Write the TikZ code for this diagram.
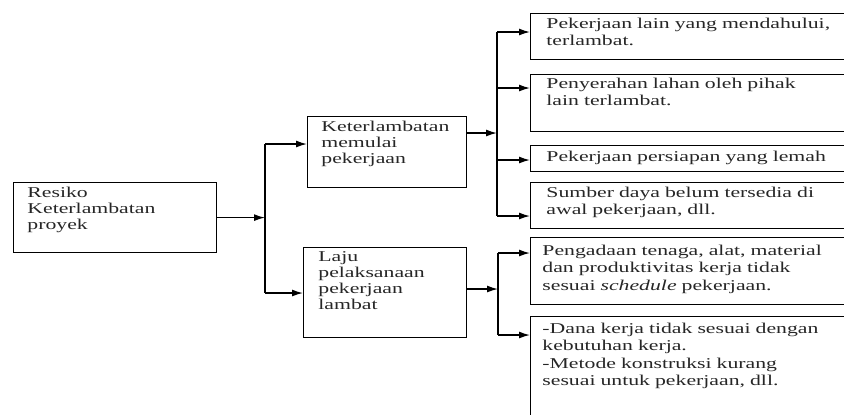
\documentclass[tikz,border=0pt]{standalone}
\usepackage{fontspec}
\setmainfont[FakeStretch=1.45]{Liberation Serif}
\usetikzlibrary{arrows.meta}

\begin{document}
\begin{tikzpicture}[x=0.5pt, y=-0.5pt,
  box/.style={draw, line width=0.6pt, anchor=north west, inner sep=0pt},
  txt/.style={anchor=base west, inner sep=0pt, align=left, text width=100pt,
    text=black!85, font=\fontsize{7.5}{8}\selectfont},
  rtxt/.style={txt, text width=180pt, font=\fontsize{7.5}{8.75}\selectfont},
  arr/.style={line width=0.7pt, -{Latex[length=5.5pt, width=3.5pt]}},
  spine/.style={line width=0.9pt}]
  \useasboundingbox (0,0) rectangle (844,414);
  \clip (0,0) rectangle (844,414);
  % Left column
  \node[box, minimum width=101.5pt, minimum height=35pt] (root) at (13,182) {};
  \node[txt] (troot) at (27,197) {Resiko\\Keterlambatan\\proyek};
  \node[box, minimum width=79.5pt, minimum height=35.5pt] (ket) at (307,116) {};
  \node[txt] (tket) at (321,131) {Keterlambatan\\memulai\\pekerjaan};
  \node[box, minimum width=81.5pt, minimum height=45pt] (laju) at (303,247) {};
  \node[txt] (tlaju) at (318,261) {Laju\\pelaksanaan\\pekerjaan\\lambat};
  % Right column
  \node[box, minimum width=160pt, minimum height=23pt] (b1) at (530,13) {};
  \node[rtxt] (t1) at (546,28) {Pekerjaan lain yang mendahului,\\terlambat.};
  \node[box, minimum width=160pt, minimum height=28.5pt] (b2) at (530,74) {};
  \node[rtxt] (t2) at (546,88) {Penyerahan lahan oleh pihak\\lain terlambat.};
  \node[box, minimum width=160pt, minimum height=13pt] (b3) at (530,145) {};
  \node[rtxt] (t3) at (546,161) {Pekerjaan persiapan yang lemah};
  \node[box, minimum width=160pt, minimum height=23pt] (b4) at (530,182) {};
  \node[rtxt] (t4) at (546,197) {Sumber daya belum tersedia di\\awal pekerjaan, dll.};
  \node[box, minimum width=160pt, minimum height=33.5pt] (b5) at (530,237) {};
  \node[rtxt] (t5) at (542,255) {Pengadaan tenaga, alat, material\\dan produktivitas kerja tidak\\sesuai \textit{schedule} pekerjaan.};
  \node[box, minimum width=160pt, minimum height=57pt] (b6) at (530,316) {};
  \node[rtxt] (t6) at (542,333) {-Dana kerja tidak sesuai dengan\\kebutuhan kerja.\\-Metode konstruksi kurang\\sesuai untuk pekerjaan, dll.};
  % First split
  \coordinate (k1) at (265,144);
  \coordinate (k2) at (265,293);
  \draw[spine] (k1) -- (k2);
  \draw[arr] (root.east) -- (root.east -| k1);
  \draw[arr] (k1) -- (k1 -| ket.west);
  \draw[arr] (k2) -- (k2 -| laju.west);
  % Second split
  \coordinate (m0) at (497,133);
  \draw[arr] (m0 -| ket.east) -- (m0);
  \foreach \b/\y in {b1/32, b2/88, b3/160, b4/216}
    \coordinate (m\b) at (497,\y);
  \draw[spine] (mb1) -- (mb4);
  \foreach \b in {b1,b2,b3,b4}
    \draw[arr] (m\b) -- (m\b -| \b.west);
  % Third split
  \coordinate (n0) at (498,289);
  \coordinate (nb5) at (498,253);
  \coordinate (nb6) at (498,335);
  \draw[arr] (n0 -| laju.east) -- (n0);
  \draw[spine] (nb5) -- (nb6);
  \foreach \b in {b5,b6}
    \draw[arr] (n\b) -- (n\b -| \b.west);
\end{tikzpicture}
\end{document}
